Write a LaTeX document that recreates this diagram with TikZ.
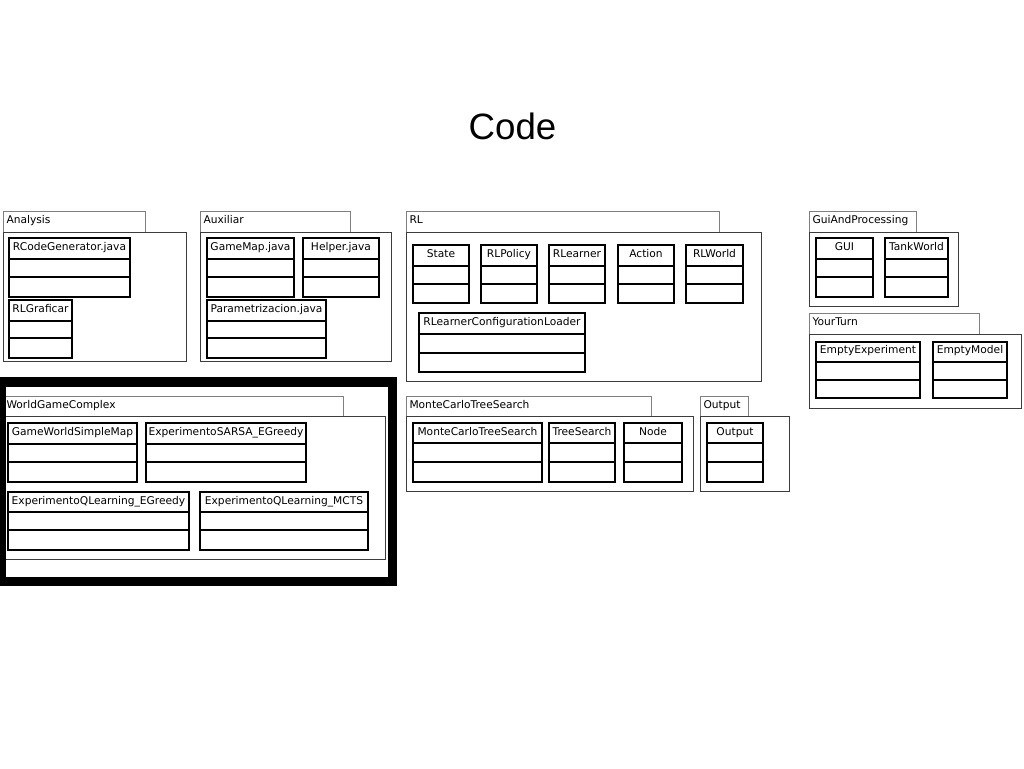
\documentclass[tikz,border=0pt]{standalone}
\usepackage{fontspec}
\newfontfamily\umlfamily{DejaVu Sans}
\newfontfamily\titlefamily{Liberation Sans}
\newcommand{\umlfont}{\umlfamily\fontsize{8}{10}\selectfont}
\newcommand{\titlefont}{\titlefamily\fontsize{27.5}{33}\selectfont}

\tikzset{every picture/.style={line width=0.75pt}}
\tikzset{
  pkgtab/.style={draw={rgb, 255:red, 128; green, 128; blue, 128 }},
  pkgbody/.style={draw={rgb, 255:red, 60; green, 60; blue, 60 }},
  classbox/.style={draw=black, line width=1pt},
  clsname/.style={anchor=base, inner sep=0.75pt, font=\umlfont},
  pkgname/.style={anchor=base west, inner sep=0.75pt, font=\umlfont},
  hilite/.style={draw=black, line width=7pt}
}

\begin{document}
\begin{tikzpicture}[x=0.75pt,y=0.75pt,yscale=-1,xscale=1]
\useasboundingbox (0,0) rectangle (1024,768);

% Text Node
\node [font=\titlefont] (title) at (512.5,126) {Code};

%Package: Analysis
\draw [pkgtab] (3,211) rectangle (145,232);
\draw [pkgbody] (3,232) rectangle (186,361);
%Class: RCodeGenerator.java
\draw [classbox] (9,238) rectangle (130,297) (9,259) -- (130,259) (9,277) -- (130,277);
%Class: RLGraficar
\draw [classbox] (9,300) rectangle (72,358) (9,321) -- (72,321) (9,338) -- (72,338);

%Package: Auxiliar
\draw [pkgtab] (200,211) rectangle (350,232);
\draw [pkgbody] (200,232) rectangle (391,361);
%Class: GameMap.java
\draw [classbox] (207,238) rectangle (294,297) (207,259) -- (294,259) (207,277) -- (294,277);
%Class: Helper.java
\draw [classbox] (303,238) rectangle (379,297) (303,259) -- (379,259) (303,277) -- (379,277);
%Class: Parametrizacion.java
\draw [classbox] (207,300) rectangle (326,358) (207,321) -- (326,321) (207,338) -- (326,338);

%Package: RL
\draw [pkgtab] (406,211) rectangle (719,232);
\draw [pkgbody] (406,232) rectangle (761,381);
%Class: State
\draw [classbox] (413,245) rectangle (469,303) (413,266) -- (469,266) (413,284) -- (469,284);
%Class: RLPolicy
\draw [classbox] (481,245) rectangle (537,303) (481,266) -- (537,266) (481,284) -- (537,284);
%Class: RLearner
\draw [classbox] (549,245) rectangle (605,303) (549,266) -- (605,266) (549,284) -- (605,284);
%Class: Action
\draw [classbox] (618,245) rectangle (674,303) (618,266) -- (674,266) (618,284) -- (674,284);
%Class: RLWorld
\draw [classbox] (686,245) rectangle (743,303) (686,266) -- (743,266) (686,284) -- (743,284);
%Class: RLearnerConfigurationLoader
\draw [classbox] (419,313) rectangle (585,372) (419,334) -- (585,334) (419,353) -- (585,353);

%Package: GuiAndProcessing
\draw [pkgtab] (809,211) rectangle (916,232);
\draw [pkgbody] (809,232) rectangle (958,306);
%Class: GUI
\draw [classbox] (816,238) rectangle (873,297) (816,259) -- (873,259) (816,277) -- (873,277);
%Class: TankWorld
\draw [classbox] (885,238) rectangle (948,297) (885,259) -- (948,259) (885,277) -- (948,277);

%Package: YourTurn
\draw [pkgtab] (809,313) rectangle (979,334);
\draw [pkgbody] (809,334) rectangle (1021,408);
%Class: EmptyExperiment
\draw [classbox] (816,342) rectangle (920,398) (816,362) -- (920,362) (816,380) -- (920,380);
%Class: EmptyModel
\draw [classbox] (933,342) rectangle (1007,398) (933,362) -- (1007,362) (933,380) -- (1007,380);

%Package: WorldGameComplex
\draw [pkgtab] (3,396) rectangle (343,416);
\draw [pkgbody] (3,416) rectangle (385,559);
%Class: GameWorldSimpleMap
\draw [classbox] (8,423) rectangle (137,482) (8,444) -- (137,444) (8,462) -- (137,462);
%Class: ExperimentoSARSA_EGreedy
\draw [classbox] (146,423) rectangle (306,482) (146,444) -- (306,444) (146,462) -- (306,462);
%Class: ExperimentoQLearning_EGreedy
\draw [classbox] (8,492) rectangle (189,550) (8,512) -- (189,512) (8,530) -- (189,530);
%Class: ExperimentoQLearning_MCTS
\draw [classbox] (200,492) rectangle (368,550) (200,512) -- (368,512) (200,530) -- (368,530);

%Package: MonteCarloTreeSearch
\draw [pkgtab] (406,396) rectangle (651,416);
\draw [pkgbody] (406,416) rectangle (693,491);
%Class: MonteCarloTreeSearch
\draw [classbox] (413,423) rectangle (542,482) (413,443) -- (542,443) (413,462) -- (542,462);
%Class: TreeSearch
\draw [classbox] (549,423) rectangle (615,482) (549,443) -- (615,443) (549,462) -- (615,462);
%Class: Node
\draw [classbox] (624,423) rectangle (682,482) (624,443) -- (682,443) (624,462) -- (682,462);

%Package: Output
\draw [pkgtab] (700,396) rectangle (748,416);
\draw [pkgbody] (700,416) rectangle (789,491);
%Class: Output
\draw [classbox] (707,423) rectangle (763,482) (707,443) -- (763,443) (707,462) -- (763,462);

% Text Node
\node [pkgname] (analysis) at (5,223) {Analysis};
\node [pkgname] (auxiliar) at (202,223) {Auxiliar};
\node [pkgname] (rl) at (408,223) {RL};
\node [pkgname] (guiproc) at (811,223) {GuiAndProcessing};
\node [pkgname] (yourturn) at (811,325) {YourTurn};
\node [pkgname] (worldgame) at (5,408) {WorldGameComplex};
\node [pkgname] (mctspkg) at (408,408) {MonteCarloTreeSearch};
\node [pkgname] (outputpkg) at (702,408) {Output};

% Text Node
\node [clsname] (rcodegen) at (69.5,250.5) {RCodeGenerator.java};
\node [clsname] (rlgraficar) at (40.5,312.5) {RLGraficar};
\node [clsname] (gamemap) at (250.5,250.5) {GameMap.java};
\node [clsname] (helper) at (341,250.5) {Helper.java};
\node [clsname] (parametrizacion) at (266.5,312.5) {Parametrizacion.java};
\node [clsname] (state) at (441,257.5) {State};
\node [clsname] (rlpolicy) at (509,257.5) {RLPolicy};
\node [clsname] (rlearner) at (577,257.5) {RLearner};
\node [clsname] (action) at (646,257.5) {Action};
\node [clsname] (rlworld) at (714.5,257.5) {RLWorld};
\node [clsname] (rlconfig) at (502,325.5) {RLearnerConfigurationLoader};
\node [clsname] (gui) at (844.5,250.5) {GUI};
\node [clsname] (tankworld) at (916.5,250.5) {TankWorld};
\node [clsname] (emptyexp) at (868,353.5) {EmptyExperiment};
\node [clsname] (emptymodel) at (970,353.5) {EmptyModel};
\node [clsname] (gwsimplemap) at (72.5,435) {GameWorldSimpleMap};
\node [clsname] (sarsa) at (226,435) {ExperimentoSARSA\_EGreedy};
\node [clsname] (qlegreedy) at (98.5,504) {ExperimentoQLearning\_EGreedy};
\node [clsname] (qlmcts) at (284,504) {ExperimentoQLearning\_MCTS};
\node [clsname] (mcts) at (477.5,435) {MonteCarloTreeSearch};
\node [clsname] (treesearch) at (582,435) {TreeSearch};
\node [clsname] (node) at (653,435) {Node};
\node [clsname] (output) at (735,435) {Output};

%Highlight frame
\draw [hilite] (1.25,382) rectangle (392.5,581.5);

\end{tikzpicture}
\end{document}
